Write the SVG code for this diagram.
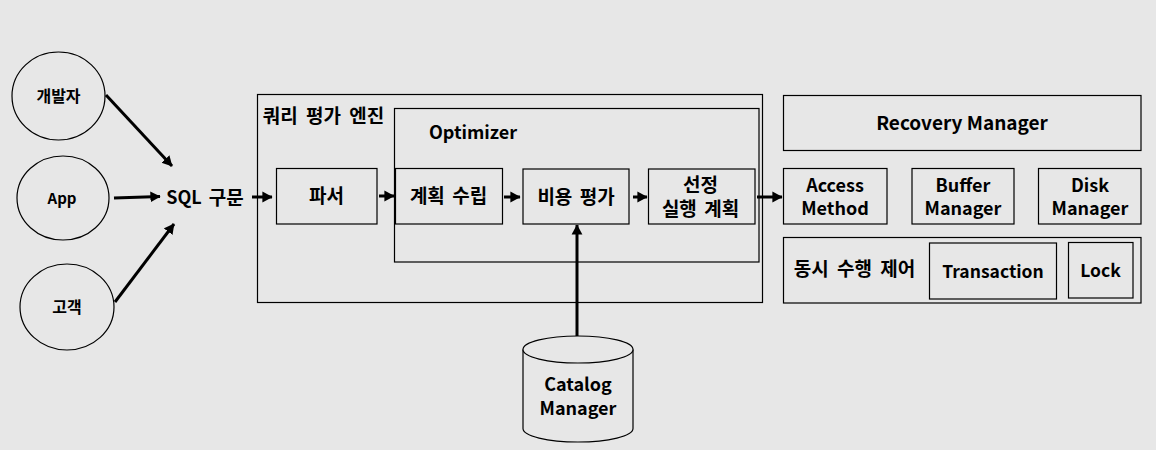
<svg xmlns="http://www.w3.org/2000/svg" width="1156" height="450" viewBox="0 0 1156 450">
<style>
.bx{fill:none;stroke:#000;stroke-width:1.2}
.el{fill:#e7e7e7;stroke:#000;stroke-width:1.2}
.t{font-family:"Noto Sans CJK KR","Noto Sans",sans-serif;font-weight:bold;fill:#000;text-anchor:middle;dominant-baseline:central}
.k{font-size:19px;word-spacing:3px}
.kt{font-size:19px;word-spacing:4px}
.s18{font-size:18px}
.s17{font-size:17.5px}
.ke{font-size:16px}
.s15{font-size:15px}
.c{stroke:#000;stroke-width:3;fill:none;marker-end:url(#ah)}
</style>
<defs>
<marker id="ah" markerWidth="4" markerHeight="4" refX="3.2" refY="2" orient="auto" markerUnits="strokeWidth">
<path d="M0,0.2 L3.4,2 L0,3.8 Z" fill="#000"/>
</marker>
</defs>
<rect width="1156" height="450" fill="#e7e7e7"/>

<g id="dev"><ellipse class="el" cx="58.5" cy="96" rx="46.5" ry="44"/><text class="t ke" x="58.5" y="95">개발자</text></g>
<g id="app"><ellipse class="el" cx="63" cy="198" rx="46" ry="42"/><text class="t s15" x="62" y="197">App</text></g>
<g id="customer"><ellipse class="el" cx="67" cy="307" rx="47" ry="43"/><text class="t ke" x="67" y="306">고객</text></g>

<g id="sql"><text class="t s18" x="205" y="195.5" style="word-spacing:3px">SQL <tspan style="font-size:19px">구문</tspan></text></g>

<g id="engine"><rect class="bx" x="257.5" y="94.5" width="505" height="208"/><text class="t kt" x="323.5" y="114">쿼리 평가 엔진</text></g>
<g id="optimizer"><rect class="bx" x="394.5" y="108.5" width="364.5" height="153.5"/><text class="t s18" x="473" y="131">Optimizer</text></g>
<g id="parser"><rect class="bx" x="276.5" y="168.5" width="100.5" height="55.5"/><text class="t k" x="326.5" y="194">파서</text></g>
<g id="plan"><rect class="bx" x="395.5" y="168.5" width="107" height="55.5"/><text class="t k" x="448.5" y="194">계획 수립</text></g>
<g id="cost"><rect class="bx" x="523" y="169" width="106" height="55"/><text class="t k" x="576" y="195">비용 평가</text></g>
<g id="select"><rect class="bx" x="648.5" y="169" width="106.5" height="55"/><text class="t k" x="700.5" y="183">선정</text><text class="t k" x="700.5" y="207">실행 계획</text></g>

<g id="catalog">
<path class="el" d="M523,349.5 V428.5 A55,13.5 0 0 0 633,428.5 V349.5"/>
<ellipse class="el" cx="578" cy="349.5" rx="55" ry="13.5"/>
<text class="t s18" x="578" y="383">Catalog</text><text class="t s18" x="578" y="406.5">Manager</text>
</g>

<g id="recovery"><rect class="bx" x="783.5" y="95.5" width="357.5" height="55"/><text class="t" style="font-size:19px" x="962" y="121">Recovery Manager</text></g>
<g id="access"><rect class="bx" x="783.5" y="168.5" width="103.5" height="55.5"/><text class="t s18" x="835" y="183.5">Access</text><text class="t s18" x="835" y="206.5">Method</text></g>
<g id="buffer"><rect class="bx" x="912" y="168.5" width="102" height="55.5"/><text class="t s18" x="963" y="183.5">Buffer</text><text class="t s18" x="963" y="206.5">Manager</text></g>
<g id="disk"><rect class="bx" x="1038.5" y="168.5" width="102.5" height="55.5"/><text class="t s18" x="1090" y="183.5">Disk</text><text class="t s18" x="1090" y="206.5">Manager</text></g>
<g id="concurrency"><rect class="bx" x="783.5" y="237.5" width="357.5" height="65.5"/><text class="t kt" x="854.5" y="267">동시 수행 제어</text></g>
<g id="transaction"><rect class="bx" x="929.5" y="243" width="127" height="56"/><text class="t s17" x="993" y="270">Transaction</text></g>
<g id="lock"><rect class="bx" x="1068.5" y="242.5" width="64.5" height="55.5"/><text class="t s17" x="1100.5" y="269">Lock</text></g>

<g id="connectors">
<line class="c" x1="106" y1="95" x2="172" y2="166"/>
<line class="c" x1="114" y1="198" x2="160" y2="196.5"/>
<line class="c" x1="115" y1="302" x2="174" y2="224"/>
<line class="c" x1="252" y1="197" x2="272" y2="197"/>
<line class="c" x1="379" y1="196" x2="394" y2="196"/>
<line class="c" x1="504" y1="197" x2="520" y2="197"/>
<line class="c" x1="633" y1="197" x2="647" y2="197"/>
<line class="c" x1="757" y1="197" x2="782" y2="197"/>
<line class="c" x1="577" y1="336" x2="577" y2="225"/>
</g>
</svg>
